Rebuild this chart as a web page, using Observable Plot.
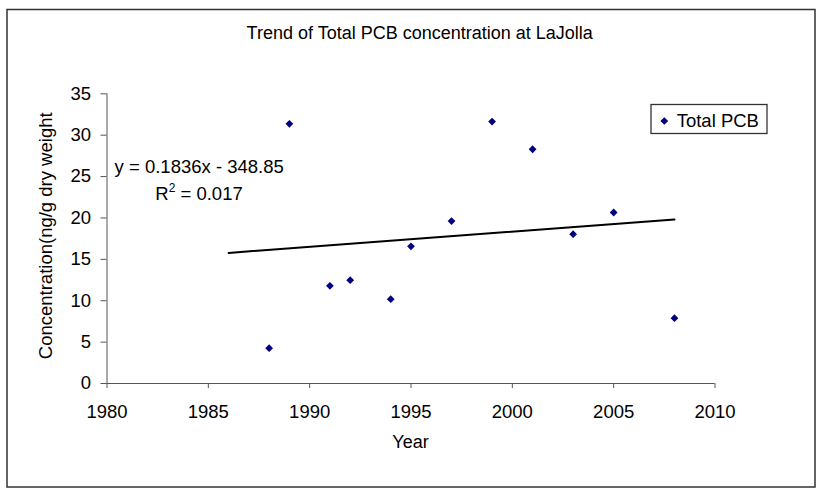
<!DOCTYPE html>
<html><head><meta charset="utf-8">
<script src="https://cdn.jsdelivr.net/npm/d3@7"></script>
<script src="https://cdn.jsdelivr.net/npm/@observablehq/plot@0.6"></script>
<style>
html,body{margin:0;padding:0;background:#fff;}
#chart{width:822px;height:493px;}
</style></head><body><div id="chart"></div>
<script>
const years = [1988, 1989, 1991, 1992, 1994, 1995, 1997, 1999, 2001, 2003, 2005, 2008];
const totalPCB = [4.27, 31.38, 11.8, 12.48, 10.19, 16.57, 19.63, 31.64, 28.3, 18.04, 20.66, 7.89];
const trendYears = [1986, 2008];
const trendValues = [15.78, 19.82];
const xTicks = [1980, 1985, 1990, 1995, 2000, 2005, 2010];
const yTicks = [0, 5, 10, 15, 20, 25, 30, 35];
const titleText = "Trend of Total PCB concentration at LaJolla";
const xLabel = "Year";
const yLabel = "Concentration(ng/g dry weight";
const seriesName = "Total PCB";
const equationText = "y = 0.1836x - 348.85";
const r2Text = " = 0.017";

const points = years.map((year, i) => ({year, value: totalPCB[i]}));
const trend = trendYears.map((year, i) => ({year, value: trendValues[i]}));

const FONT = "'Liberation Sans', Arial, sans-serif";
const AXIS = "#555";

const chart = Plot.plot({
  width: 822, height: 493,
  marginLeft: 106.5, marginRight: 107.5, marginTop: 93.3, marginBottom: 110,
  style: {fontFamily: FONT, fontSize: "18.5px", color: "#000", background: "#fff", overflow: "visible"},
  x: {domain: [1980, 2010]},
  y: {domain: [0, 35]},
  marks: [
    Plot.ruleY([0], {stroke: AXIS}),
    Plot.ruleX([1980], {stroke: AXIS}),
    Plot.axisX({ticks: xTicks, tickFormat: d => String(d), tickSize: 5, tickPadding: 16, label: null, stroke: AXIS, fill: "#000"}),
    Plot.axisY({ticks: yTicks, tickFormat: d => String(d), tickSize: 6, tickPadding: 10, label: null, stroke: AXIS, fill: "#000"}),
    Plot.line(trend, {x: "year", y: "value", stroke: "#000", strokeWidth: 2}),
    Plot.dot(points, {x: "year", y: "value", symbol: "diamond2", r: 3.5, fill: "#000080", stroke: "none"})
  ]
});
document.getElementById("chart").appendChild(chart);

const svg = d3.select(chart);
svg.append("rect").attr("x", 7).attr("y", 9.5).attr("width", 808).attr("height", 477.5)
  .attr("fill", "none").attr("stroke", "#333").attr("stroke-width", 1.5);

const txt = (x, y, s, size, anchor) => svg.append("text").attr("x", x).attr("y", y)
  .attr("font-family", FONT).attr("font-size", size).attr("text-anchor", anchor || "middle").attr("fill", "#000").text(s);

txt(419.7, 38.5, titleText, 18);
txt(410.5, 448.3, xLabel, 18);
svg.append("text").attr("transform", "translate(51.5,235.8) rotate(-90)")
  .attr("font-family", FONT).attr("font-size", 18.5).attr("text-anchor", "middle").attr("fill", "#000").text(yLabel);

txt(199.2, 173.3, equationText, 18.5);
const r2 = svg.append("text").attr("x", 199).attr("y", 200).attr("font-family", FONT)
  .attr("font-size", 18.5).attr("text-anchor", "middle").attr("fill", "#000");
r2.append("tspan").text("R");
r2.append("tspan").attr("dy", -8).attr("font-size", 12).text("2");
r2.append("tspan").attr("dy", 8).text(r2Text);

const lg = svg.append("g");
lg.append("rect").attr("x", 651).attr("y", 104.5).attr("width", 116).attr("height", 29)
  .attr("fill", "#fff").attr("stroke", "#333").attr("stroke-width", 1.3);
lg.append("path").attr("transform", "translate(664.3,121)").attr("d", d3.symbol(d3.symbolDiamond2, 38)())
  .attr("fill", "#000080");
txt(676.7, 127.3, seriesName, 18.5, "start");
</script></body></html>
